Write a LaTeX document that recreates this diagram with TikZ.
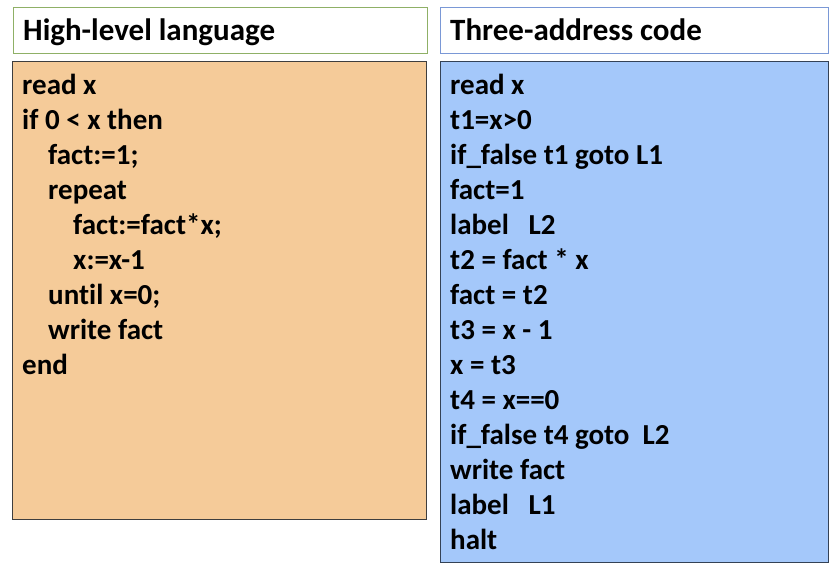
\documentclass[tikz,border=0pt]{standalone}
\usepackage{fontspec}
\setmainfont{Carlito}[Ligatures=NoCommon]

\definecolor{hdrgreen}{RGB}{143,176,102}
\definecolor{hdrblue}{RGB}{122,152,214}
\definecolor{orangefill}{RGB}{245,203,153}
\definecolor{bluefill}{RGB}{164,200,250}
\definecolor{leftedge}{RGB}{62,62,62}
\definecolor{rightedge}{RGB}{52,66,86}

\tikzset{
  code/.style={anchor=base west, inner sep=0pt, font=\fontsize{29}{29}\selectfont\bfseries},
  title/.style={anchor=base west, inner sep=0pt, font=\fontsize{31}{31}\selectfont\bfseries}
}

\begin{document}
\begin{tikzpicture}[x=1pt, y=-1pt]
\useasboundingbox (0,0) rectangle (833,563);

% Headers
\draw[hdrgreen, line width=1pt] (13,7) rectangle (427,53);
\draw[hdrblue, line width=1pt] (440,7) rectangle (828,53);
\node[title] (hll) at (23,40) {High-level language};
\node[title] (tac) at (450,40) {Three-address code};

% Bodies
\draw[leftedge, fill=orangefill, line width=1pt] (12,61) rectangle (426,519);
\draw[rightedge, fill=bluefill, line width=1pt] (440,61) rectangle (828,562);

% High-level program
\node[code] (l1) at (22,94) {read x};
\node[code] (l2) at (22,129) {if 0 < x then};
\node[code] (l3) at (48,164) {fact:=1;};
\node[code] (l4) at (48,199) {repeat};
\node[code] (l5) at (73,234) {fact:=fact*x;};
\node[code] (l6) at (73,269) {x:=x-1};
\node[code] (l7) at (48,304) {until x=0;};
\node[code] (l8) at (48,339) {write fact};
\node[code] (l9) at (22,374) {end};

% Three-address program
\node[code] (r1) at (450,94) {read x};
\node[code] (r2) at (450,129) {t1=x>0};
\node[code] (r3) at (450,164) {if\_false t1 goto L1};
\node[code] (r4) at (450,199) {fact=1};
\node[code] (r5) at (450,234) {label\ \ \ L2};
\node[code] (r6) at (450,269) {t2 = fact * x};
\node[code] (r7) at (450,304) {fact = t2};
\node[code] (r8) at (450,339) {t3 = x - 1};
\node[code] (r9) at (450,374) {x = t3};
\node[code] (r10) at (450,409) {t4 = x==0};
\node[code] (r11) at (450,444) {if\_false t4 goto\ \ L2};
\node[code] (r12) at (450,479) {write fact};
\node[code] (r13) at (450,514) {label\ \ \ L1};
\node[code] (r14) at (450,549) {halt};
\end{tikzpicture}
\end{document}
